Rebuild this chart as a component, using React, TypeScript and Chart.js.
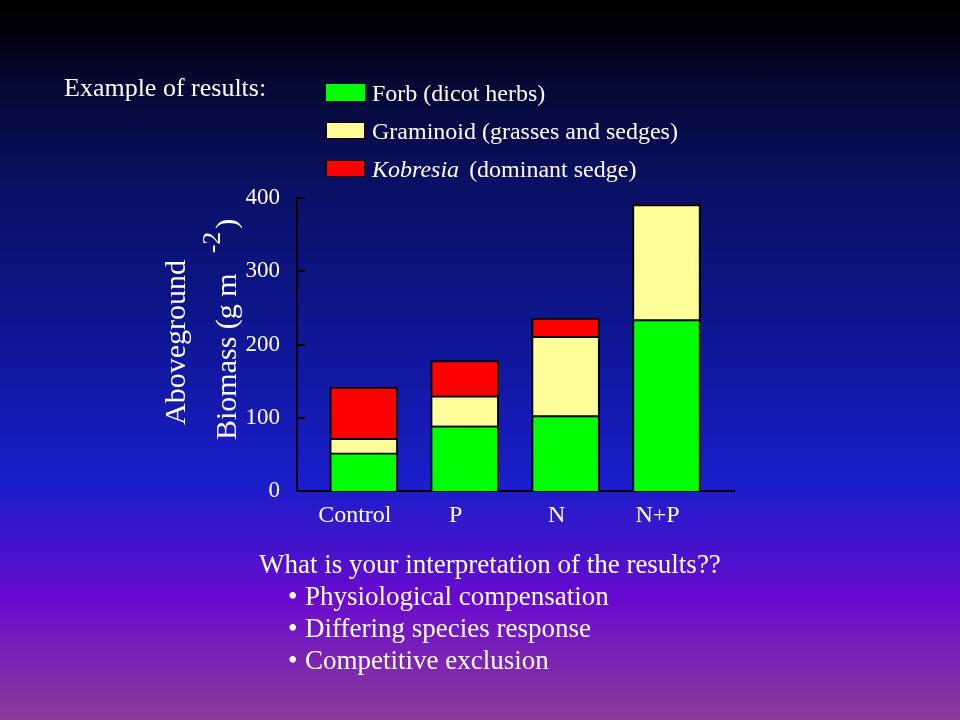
import React, { useEffect, useRef } from "react";
import { Chart, registerables } from "chart.js";

Chart.register(...registerables);

const categories = ["Control", "P", "N", "N+P"];
const forb = [52, 89, 103, 234];
const graminoid = [20, 41, 108, 157];
const kobresia = [70, 48, 25, 1];
const yTickStep = 100;
const yMax = 400;

const seriesNames = ["Forb (dicot herbs)", "Graminoid (grasses and sedges)", "Kobresia"];
const kobresiaSuffix = "(dominant sedge)";
const seriesColors = ["#00ff00", "#ffff99", "#ff0000"];
const titleText = "Example of results:";
const yTitleLine1 = "Aboveground";
const yTitleLine2 = "Biomass (g m";
const yTitleSup = "-2";
const questionText = "What is your interpretation of the results??";
const bullets = ["Physiological compensation", "Differing species response", "Competitive exclusion"];

const SERIF = '"Liberation Serif", "Times New Roman", serif';

const inwardTicks = {
  id: "inwardTicks",
  afterDatasetsDraw(chart: any) {
    const y = chart.scales.y;
    const ctx = chart.ctx;
    ctx.save();
    ctx.strokeStyle = "#000";
    ctx.lineWidth = 2;
    y.ticks.forEach((t: any) => {
      const py = Math.round(y.getPixelForValue(t.value));
      ctx.beginPath();
      ctx.moveTo(y.right, py);
      ctx.lineTo(y.right + 8, py);
      ctx.stroke();
    });
    ctx.restore();
  },
};

export default function App() {
  const ref = useRef<HTMLCanvasElement | null>(null);

  useEffect(() => {
    if (!ref.current) return;
    const series = [forb, graminoid, kobresia];
    const chart = new Chart(ref.current, {
      type: "bar",
      data: {
        datasets: series.map((vals, k) => ({
          label: seriesNames[k],
          data: vals.map((v, i) => ({ x: i, y: v })),
          backgroundColor: seriesColors[k],
          borderColor: "#000",
          borderWidth: 2,
          barThickness: 68,
          borderSkipped: (c: any) => (c.raw && c.raw.y < 5 ? false : "start"),
        })),
      },
      options: {
        animation: false,
        responsive: false,
        devicePixelRatio: 1,
        layout: { padding: { left: 0, top: 198, right: 226, bottom: 189 } },
        plugins: { legend: { display: false }, tooltip: { enabled: false } },
        scales: {
          x: {
            type: "linear",
            stacked: true,
            min: -0.662,
            max: 3.669,
            offset: false,
            grid: { display: false, drawTicks: false },
            border: { display: true, color: "#000", width: 2 },
            afterBuildTicks: (s: any) => {
              s.ticks = categories.map((_, i) => ({ value: i }));
            },
            afterFit: (s: any) => {
              s.height = 40;
            },
            ticks: {
              callback: (v: any) => categories[v as number] ?? "",
              color: "#ffffff",
              font: { family: SERIF, size: 24 },
              padding: 10,
              labelOffset: -9,
              maxRotation: 0,
              autoSkip: false,
            },
          },
          y: {
            type: "linear",
            stacked: true,
            min: 0,
            max: yMax,
            grid: { display: false, drawTicks: false },
            border: { display: true, color: "#000", width: 2 },
            afterFit: (s: any) => {
              s.width = 297;
            },
            ticks: {
              stepSize: yTickStep,
              color: "#ffffff",
              font: { family: SERIF, size: 23 },
              padding: 17,
            },
          },
        },
      } as any,
      plugins: [inwardTicks],
    });
    return () => chart.destroy();
  }, []);

  const abs = (s: React.CSSProperties): React.CSSProperties => ({ position: "absolute", whiteSpace: "nowrap", ...s });

  return (
    <div
      style={{
        position: "fixed",
        left: 0,
        top: 0,
        width: 960,
        height: 720,
        overflow: "hidden",
        fontFamily: SERIF,
        color: "#ffffff",
        background:
          "linear-gradient(to bottom, #000000 0%, #020210 5%, #040830 11%, #0a1062 25%, #0e1690 45%, #1a1ecb 67%, #4414cc 76%, #6a0ad0 83%, #8c3c98 100%)",
      }}
    >
      <canvas ref={ref} width={960} height={720} style={{ position: "absolute", left: 0, top: 0, width: 960, height: 720 }} />

      <div style={abs({ left: 64, top: 75, fontSize: 26, lineHeight: "26px" })}>{titleText}</div>

      {seriesNames.map((name, k) => (
        <React.Fragment key={name}>
          <div
            style={abs({
              left: 326,
              top: 84 + k * 38,
              width: 39,
              height: 17,
              background: seriesColors[k],
              boxSizing: "border-box",
              border: k === 0 ? "none" : "1px solid #200000",
            })}
          />
          <div style={abs({ left: 372, top: 81 + k * 38, fontSize: 24, lineHeight: "24px" })}>
            {k === 2 ? (
              <>
                <i>{name}</i>
                <span style={{ marginLeft: 10 }}>{kobresiaSuffix}</span>
              </>
            ) : (
              name
            )}
          </div>
        </React.Fragment>
      ))}

      <div
        style={abs({
          left: 160,
          top: 425,
          fontSize: 30,
          lineHeight: "30px",
          transformOrigin: "0 0",
          transform: "rotate(-90deg)",
        })}
      >
        {yTitleLine1}
      </div>
      <div
        style={abs({
          left: 211,
          top: 440,
          fontSize: 30,
          lineHeight: "30px",
          transformOrigin: "0 0",
          transform: "rotate(-90deg)",
        })}
      >
        {yTitleLine2}
        <span style={{ marginLeft: 20, fontSize: 26, position: "relative", top: -16 }}>{yTitleSup}</span>
        <span style={{ marginLeft: 3 }}>)</span>
      </div>

      <div style={abs({ left: 259, top: 548, fontSize: 27, lineHeight: "32px" })}>
        <div>{questionText}</div>
        {bullets.map((b) => (
          <div key={b} style={{ position: "relative", paddingLeft: 46 }}>
            <span style={{ position: "absolute", left: 29 }}>•</span>
            {b}
          </div>
        ))}
      </div>
    </div>
  );
}
